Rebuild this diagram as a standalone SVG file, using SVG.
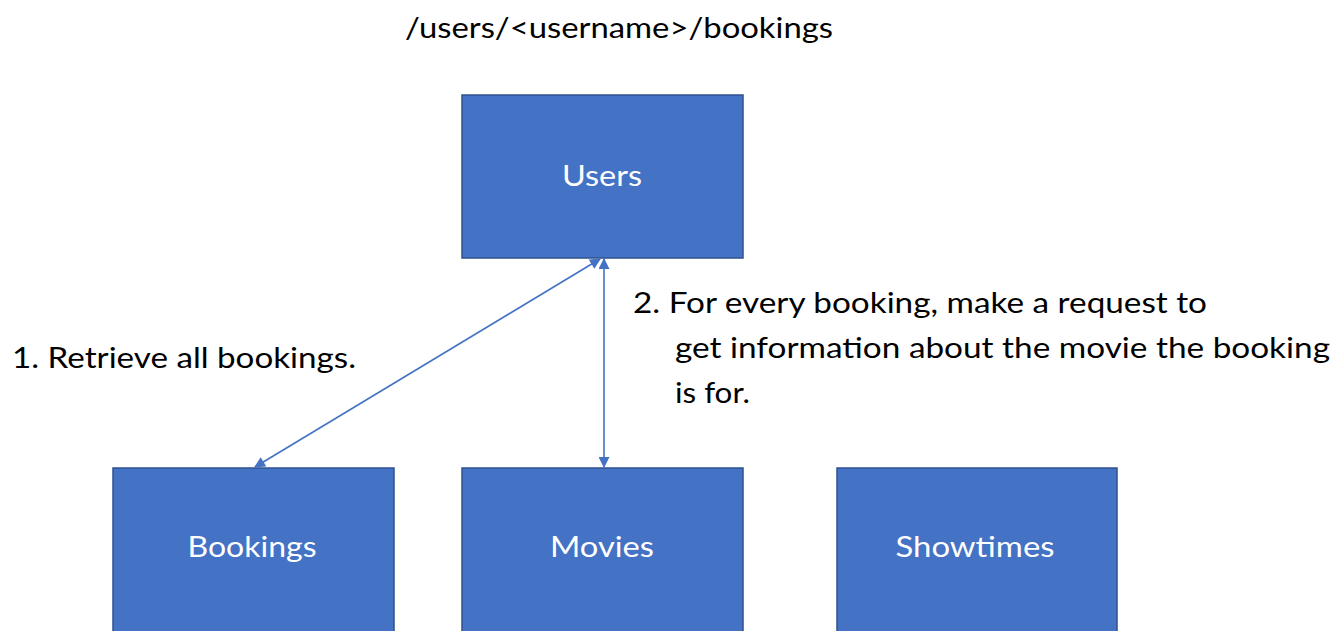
<svg xmlns="http://www.w3.org/2000/svg" width="1335" height="631" viewBox="0 0 1335 631">
  <style>
    .box { fill: #4472C4; stroke: #2F528F; stroke-width: 1.5; }
    .lbl { font-family: Lato, "Open Sans", "Liberation Sans", sans-serif; font-size: 29px; fill: #FFFFFF; text-anchor: middle; }
    .txt { font-family: Lato, "Open Sans", "Liberation Sans", sans-serif; font-size: 29px; fill: #000000; }
    .conn { stroke: #4472C4; stroke-width: 1.6; fill: none; marker-start: url(#head); marker-end: url(#head); }
  </style>
  <defs>
    <marker id="head" viewBox="0 0 10 10" refX="9" refY="5" markerWidth="12" markerHeight="11" markerUnits="userSpaceOnUse" orient="auto-start-reverse">
      <path d="M0,0 L10,5 L0,10 z" fill="#4472C4"/>
    </marker>
  </defs>
  <rect width="1335" height="631" fill="#FFFFFF"/>

  <text class="txt" x="405" y="38" textLength="428" lengthAdjust="spacingAndGlyphs">/users/&lt;username&gt;/bookings</text>

  <g id="users">
    <rect class="box" x="462" y="95" width="281" height="163"/>
    <text class="lbl" x="602" y="186" textLength="80" lengthAdjust="spacingAndGlyphs">Users</text>
  </g>
  <g id="bookings">
    <rect class="box" x="113" y="468" width="281" height="170"/>
    <text class="lbl" x="252" y="557" textLength="129" lengthAdjust="spacingAndGlyphs">Bookings</text>
  </g>
  <g id="movies">
    <rect class="box" x="462" y="468" width="281" height="170"/>
    <text class="lbl" x="602" y="557" textLength="104" lengthAdjust="spacingAndGlyphs">Movies</text>
  </g>
  <g id="showtimes">
    <rect class="box" x="837" y="468" width="280" height="170"/>
    <text class="lbl" x="975" y="557" textLength="159" lengthAdjust="spacingAndGlyphs">Showtimes</text>
  </g>

  <g id="connectors">
    <line class="conn" x1="255" y1="467" x2="600" y2="259"/>
    <line class="conn" x1="604" y1="259" x2="604" y2="467"/>
  </g>

  <g id="labels">
    <text class="txt" x="12" y="368" textLength="344" lengthAdjust="spacingAndGlyphs">1. Retrieve all bookings.</text>
    <text class="txt" x="633" y="313" textLength="574" lengthAdjust="spacingAndGlyphs">2. For every booking, make a request to</text>
    <text class="txt" x="675" y="358" textLength="655" lengthAdjust="spacingAndGlyphs">get information about the movie the booking</text>
    <text class="txt" x="675" y="403" textLength="75" lengthAdjust="spacingAndGlyphs">is for.</text>
  </g>
</svg>
